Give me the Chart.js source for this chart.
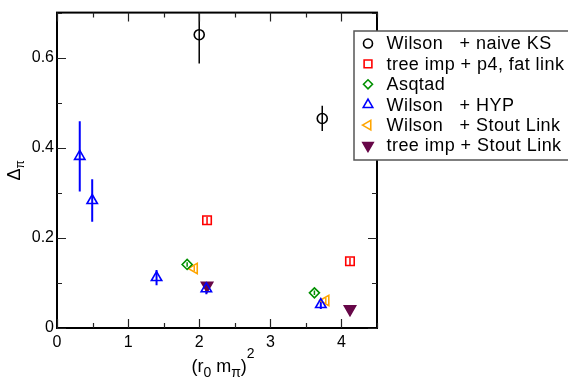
<!DOCTYPE html>
<html><head><meta charset="utf-8">
<script src="https://cdn.jsdelivr.net/npm/chart.js@4"></script>
<style>html,body{margin:0;padding:0;background:#fff}canvas{display:block}</style>
</head><body>
<canvas id="c" width="568" height="379"></canvas>
<script>
// ---- data ----
const seriesNames = ['Wilson   + naive KS', 'tree imp + p4, fat link', 'Asqtad', 'Wilson   + HYP', 'Wilson   + Stout Link', 'tree imp + Stout Link'];

const naiveKS_x = [2.00, 3.73];
const naiveKS_y = [0.651, 0.465];
const naiveKS_err = [0.064, 0.028];

const p4fat_x = [2.11, 4.12];
const p4fat_y = [0.239, 0.148];
const p4fat_err = [0.008, 0.008];

const asqtad_x = [1.83, 3.62];
const asqtad_y = [0.141, 0.078];
const asqtad_err = [0.005, 0.005];

const hyp_x = [0.32, 0.495, 1.40, 2.10, 3.71];
const hyp_y = [0.381, 0.283, 0.112, 0.087, 0.052];
const hyp_err = [0.078, 0.047, 0.017, 0.012, 0.010];

const stoutW_x = [1.93, 3.78];
const stoutW_y = [0.132, 0.061];
const stoutW_err = [0.006, 0.006];

const stoutT_x = [2.11, 4.12];
const stoutT_y = [0.094, 0.042];
const stoutT_err = [0.004, 0.004];

const xTickValues = [0, 1, 2, 3, 4];
const xTickLabels = ['0', '1', '2', '3', '4'];
const yTickValues = [0, 0.2, 0.4, 0.6];
const yTickLabels = ['0', '0.2', '0.4', '0.6'];

// ---- styles ----
const styles = [
  {style: 'circle', radius: 5, rot: 0, color: '#000000', fill: 'rgba(0,0,0,0)', ebw: 1.5},
  {style: 'rect', radius: 6, rot: 0, color: '#ff0000', fill: 'rgba(0,0,0,0)', ebw: 1.5},
  {style: 'rectRot', radius: 5, rot: 0, color: '#009000', fill: 'rgba(0,0,0,0)', ebw: 1.5},
  {style: 'triangle', radius: 6, rot: 0, color: '#0000ff', fill: 'rgba(0,0,0,0)', ebw: 2},
  {style: 'triangle', radius: 6, rot: -90, color: '#ffa500', fill: 'rgba(0,0,0,0)', ebw: 1.5},
  {style: 'triangle', radius: 6.5, rot: 180, color: '#670748', fill: '#670748', ebw: 1.5}
];
const xs = [naiveKS_x, p4fat_x, asqtad_x, hyp_x, stoutW_x, stoutT_x];
const ys = [naiveKS_y, p4fat_y, asqtad_y, hyp_y, stoutW_y, stoutT_y];
const es = [naiveKS_err, p4fat_err, asqtad_err, hyp_err, stoutW_err, stoutT_err];

const datasets = seriesNames.map((name, k) => ({
  label: name,
  data: xs[k].map((x, i) => ({x: x, y: ys[k][i], e: es[k][i]})),
  pointStyle: styles[k].style,
  pointRadius: styles[k].radius,
  pointRotation: styles[k].rot,
  borderColor: styles[k].color,
  backgroundColor: styles[k].fill,
  pointBorderWidth: 1.6,
  showLine: false
}));

const FONT = '"Liberation Sans", Arial, Helvetica, sans-serif';
Chart.defaults.font.family = FONT;
Chart.defaults.color = '#000';

function near(v, arr) { return arr.findIndex(t => Math.abs(v - t) < 1e-6); }

const errorBars = {
  id: 'errorBars',
  beforeDatasetsDraw(chart) {
    const ctx = chart.ctx, a = chart.chartArea;
    const xS = chart.scales.x, yS = chart.scales.y;
    ctx.save();
    ctx.beginPath(); ctx.rect(a.left, a.top, a.right - a.left, a.bottom - a.top); ctx.clip();
    chart.data.datasets.forEach((ds, k) => {
      ctx.strokeStyle = styles[k].color;
      ctx.lineWidth = styles[k].ebw;
      ds.data.forEach(p => {
        const px = xS.getPixelForValue(p.x);
        ctx.beginPath();
        ctx.moveTo(px, yS.getPixelForValue(p.y + p.e));
        ctx.lineTo(px, yS.getPixelForValue(p.y - p.e));
        ctx.stroke();
      });
    });
    ctx.restore();
  }
};

function drawRich(ctx, parts, cx, baseline) {
  let w = 0;
  parts.forEach(p => { ctx.font = p.size + 'px ' + FONT; p.w = ctx.measureText(p.t).width; w += p.w; });
  let x = cx - w / 2;
  ctx.textBaseline = 'alphabetic'; ctx.textAlign = 'left';
  parts.forEach(p => { ctx.font = p.size + 'px ' + FONT; ctx.fillText(p.t, x, baseline + (p.dy || 0)); x += p.w; });
}

const frame = {
  id: 'frame',
  afterDraw(chart) {
    const ctx = chart.ctx, a = chart.chartArea;
    const xS = chart.scales.x, yS = chart.scales.y;
    ctx.save();
    ctx.strokeStyle = '#000'; ctx.lineWidth = 2;
    ctx.strokeRect(a.left, a.top, a.right - a.left, a.bottom - a.top);
    ctx.lineWidth = 1.2; ctx.strokeStyle = '#222';
    xS.ticks.forEach(t => {
      const L = near(t.value, xTickValues) >= 0 ? 9 : 5;
      const px = Math.round(xS.getPixelForValue(t.value)) + 0.5;
      ctx.beginPath();
      ctx.moveTo(px, a.bottom); ctx.lineTo(px, a.bottom - L);
      ctx.moveTo(px, a.top); ctx.lineTo(px, a.top + L);
      ctx.stroke();
    });
    yS.ticks.forEach(t => {
      const L = near(t.value, yTickValues) >= 0 ? 9 : 5;
      const py = Math.round(yS.getPixelForValue(t.value)) + 0.5;
      ctx.beginPath();
      ctx.moveTo(a.left, py); ctx.lineTo(a.left + L, py);
      ctx.moveTo(a.right, py); ctx.lineTo(a.right - L, py);
      ctx.stroke();
    });
    ctx.fillStyle = '#000';
    // x title
    drawRich(ctx, [
      {t: '(r', size: 18}, {t: '0', size: 14, dy: 5}, {t: ' m', size: 18},
      {t: 'π', size: 14, dy: 5}, {t: ')', size: 18}, {t: '2', size: 14, dy: -14}
    ], 223, 372);
    // y title
    ctx.save();
    ctx.translate(20, (a.top + a.bottom) / 2);
    ctx.rotate(-Math.PI / 2);
    drawRich(ctx, [{t: 'Δ', size: 18}, {t: 'π', size: 12, dy: 4}], 0, 0);
    ctx.restore();
    // legend
    const lx = 354, ly = 31, lw = 220, lh = 129;
    ctx.fillStyle = '#fff';
    ctx.fillRect(lx, ly, lw, lh);
    ctx.strokeStyle = '#555'; ctx.lineWidth = 1.5;
    ctx.strokeRect(lx, ly, lw, lh);
    chart.data.datasets.forEach((ds, k) => {
      const ry = 43.5 + k * 20.4;
      ctx.strokeStyle = styles[k].color; ctx.fillStyle = styles[k].fill; ctx.lineWidth = 1.6;
      Chart.helpers.drawPoint(ctx, {pointStyle: styles[k].style, radius: styles[k].radius - 0.5, rotation: styles[k].rot, borderWidth: 1.6}, 368, ry);
      ctx.fillStyle = '#000';
      ctx.font = '18px ' + FONT; ctx.textAlign = 'left'; ctx.textBaseline = 'middle';
      ctx.letterSpacing = '0.45px';
      ctx.fillText(ds.label, 386.5, ry + 1);
      ctx.letterSpacing = '0px';
    });
    ctx.restore();
  }
};

new Chart(document.getElementById('c'), {
  type: 'scatter',
  data: {datasets: datasets},
  options: {
    responsive: false, animation: false, devicePixelRatio: 1,
    layout: {padding: {top: 7, right: 191, left: 0, bottom: 0}},
    plugins: {legend: {display: false}, tooltip: {enabled: false}},
    scales: {
      x: {
        type: 'linear', min: 0, max: 4.5,
        grid: {display: false, drawTicks: false}, border: {display: false},
        ticks: {stepSize: 0.5, padding: 5, maxRotation: 0, autoSkip: false, font: {size: 16},
          callback: v => { const i = near(v, xTickValues); return i >= 0 ? xTickLabels[i] : ''; }},
        afterFit: s => { s.height = 51; }
      },
      y: {
        type: 'linear', min: 0, max: 0.7,
        grid: {display: false, drawTicks: false}, border: {display: false},
        ticks: {stepSize: 0.1, padding: 3, autoSkip: false, font: {size: 16},
          callback: v => { const i = near(v, yTickValues); return i >= 0 ? yTickLabels[i] : ''; }},
        afterFit: s => { s.width = 57; }
      }
    }
  },
  plugins: [errorBars, frame]
});
</script>
</body></html>
